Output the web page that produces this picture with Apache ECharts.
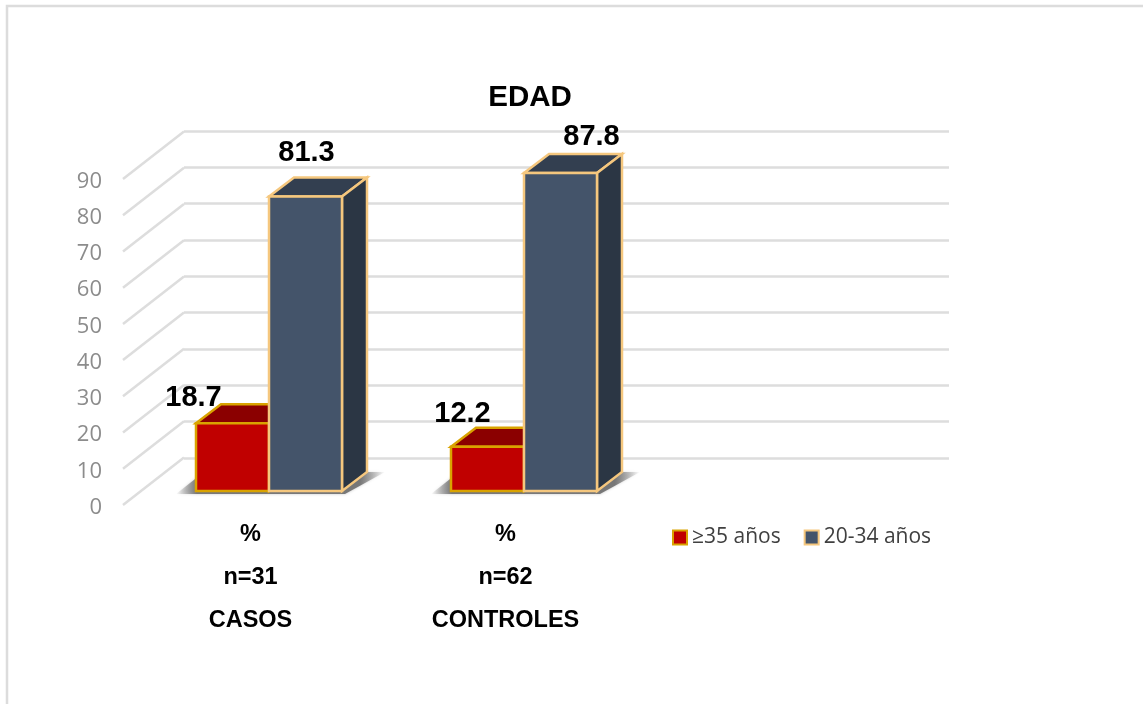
<!DOCTYPE html>
<html><head><meta charset="utf-8">
<style>html,body{margin:0;padding:0;background:#fff}#c{width:1143px;height:704px}</style>
<script src="https://cdn.jsdelivr.net/npm/echarts@6/dist/echarts.min.js"></script>
</head><body><div id="c"></div>
<script>
const groups = ['CASOS', 'CONTROLES', ''];
const sizes = ['n=31', 'n=62', ''];
const units = ['%', '%', ''];
const olderValues = [18.7, 12.2];
const youngerValues = [81.3, 87.8];
const yTicks = [0, 10, 20, 30, 40, 50, 60, 70, 80, 90];
const seriesNames = ['≥35 años', '20-34 años'];
const olderLabelShift = [[-39, -25], [-25, -33]];
const youngerLabelShift = [[1, -44], [31, -36]];

const wallDX = 61, wallDY = -47.5;
const barDX = 25, barDY = -19, barInX = 18.5, barInY = -14, barW = 73;

const chart = echarts.init(document.getElementById('c'), null, {renderer: 'canvas'});

function boxSeries(name, values, shifts, front, top, side, edge, idx) {
  return {
    name, type: 'custom', xAxisIndex: 1, yAxisIndex: 1, z: 5 + idx,
    itemStyle: {color: front, borderColor: edge, borderWidth: 2.5},
    data: values.map((v, i) => [i, v]),
    renderItem(p, api) {
      const i = api.value(0), v = api.value(1);
      const cx = api.coord([i, 0])[0] + barInX;
      const x0 = idx === 0 ? cx - barW : cx, x1 = x0 + barW;
      const yb = api.coord([i, 0])[1] + barInY;
      const yt = api.coord([i, v])[1] + barInY;
      const b = {stroke: edge, lineWidth: 2.5, lineJoin: 'miter'};
      const poly = (pts, fill) => ({type: 'polygon', shape: {points: pts}, style: Object.assign({fill}, b)});
      const kids = [];
      if (idx === 0) {
        kids.push({type: 'polygon', silent: true,
          shape: {points: [[x0 - 20, yb + 3], [x0 + 2 * barW + 3, yb + 3], [x0 + 2 * barW + barDX + 18, yb + barDY], [x0 + 8, yb + barDY]]},
          style: {shadowBlur: 3, shadowColor: 'rgba(130,130,130,0.5)', fill: {type: 'linear', x: 0, y: 0, x2: 1, y2: 0, colorStops: [
            {offset: 0, color: 'rgba(120,120,120,0)'}, {offset: 0.1, color: 'rgba(110,110,110,0.9)'},
            {offset: 0.88, color: 'rgba(110,110,110,0.9)'}, {offset: 1, color: 'rgba(120,120,120,0)'}]}}});
      }
      kids.push(poly([[x0, yt], [x0 + barDX, yt + barDY], [x1 + barDX, yt + barDY], [x1, yt]], top));
      kids.push(poly([[x1, yt], [x1 + barDX, yt + barDY], [x1 + barDX, yb + barDY], [x1, yb]], side));
      kids.push(poly([[x0, yt], [x1, yt], [x1, yb], [x0, yb]], front));
      const s = shifts[i];
      kids.push({type: 'text', z2: 50, style: {
        text: String(v), x: (x0 + x1) / 2 + s[0], y: yt + s[1], align: 'center', verticalAlign: 'middle',
        font: 'bold 29px "Liberation Sans", Arial, sans-serif', fill: '#000'}});
      return {type: 'group', children: kids};
    }
  };
}

chart.setOption({
  animation: false,
  backgroundColor: '#fff',
  title: {text: 'EDAD', left: 525, top: 78, textAlign: 'center',
    textStyle: {fontFamily: '"Liberation Sans"', fontWeight: 'bold', fontSize: 29.5, color: '#000'}},
  legend: {left: 667, top: 522, icon: 'rect', itemWidth: 14, itemHeight: 14, itemGap: 23,
    data: seriesNames, selectedMode: false,
    textStyle: {fontFamily: '"Open Sans"', fontSize: 21, color: '#404040', padding: [0, 0, 0, 0]}},
  grid: [
    {left: 184, top: 131, width: 765, height: 327},
    {left: 123, top: 179, width: 765, height: 326}
  ],
  xAxis: [
    {gridIndex: 0, type: 'category', data: groups, axisLine: {show: false}, axisTick: {show: false}, axisLabel: {show: false}},
    {gridIndex: 1, type: 'category', data: groups.map((g, i) => [units[i], sizes[i], g].join('\n')),
      axisLine: {show: false}, axisTick: {show: false},
      axisLabel: {interval: 0, margin: 8, lineHeight: 43, color: '#000',
        fontFamily: '"Liberation Sans"', fontWeight: 'bold', fontSize: 23.5}}
  ],
  yAxis: [
    {gridIndex: 0, type: 'value', min: 0, max: 90, interval: 10, axisLine: {show: false}, axisTick: {show: false},
      axisLabel: {show: false}, splitLine: {lineStyle: {color: '#dddddd', width: 2.5}}},
    {gridIndex: 1, type: 'value', min: 0, max: 90, interval: 10, axisLine: {show: false}, axisTick: {show: false},
      splitLine: {show: false},
      axisLabel: {margin: 21, formatter: '{t|{value}}',
        rich: {t: {padding: [5, 0, 0, 0], color: '#8c8c8c', fontFamily: '"Open Sans"', fontSize: 22}}}}
  ],
  series: [
    {type: 'custom', xAxisIndex: 1, yAxisIndex: 1, z: 1, silent: true,
      data: yTicks.map(t => [0, t]),
      renderItem(p, api) {
        const c = api.coord([0, api.value(1)]);
        const x = p.coordSys.x;
        return {type: 'line', shape: {x1: x, y1: c[1], x2: x + wallDX, y2: c[1] + wallDY},
          style: {stroke: '#dddddd', lineWidth: 2.5}};
      }},
    boxSeries(seriesNames[0], olderValues, olderLabelShift, '#c00000', '#8b0000', '#8b0000', '#d9a300', 0),
    boxSeries(seriesNames[1], youngerValues, youngerLabelShift, '#44546a', '#333f50', '#2b3644', '#f5c77e', 1)
  ],
  graphic: [{type: 'polyline', silent: true, z: 0,
    shape: {points: [[7, 704], [7, 6], [1143, 6]]},
    style: {stroke: '#dcdcdc', lineWidth: 2.5, fill: null}}]
});
</script></body></html>
